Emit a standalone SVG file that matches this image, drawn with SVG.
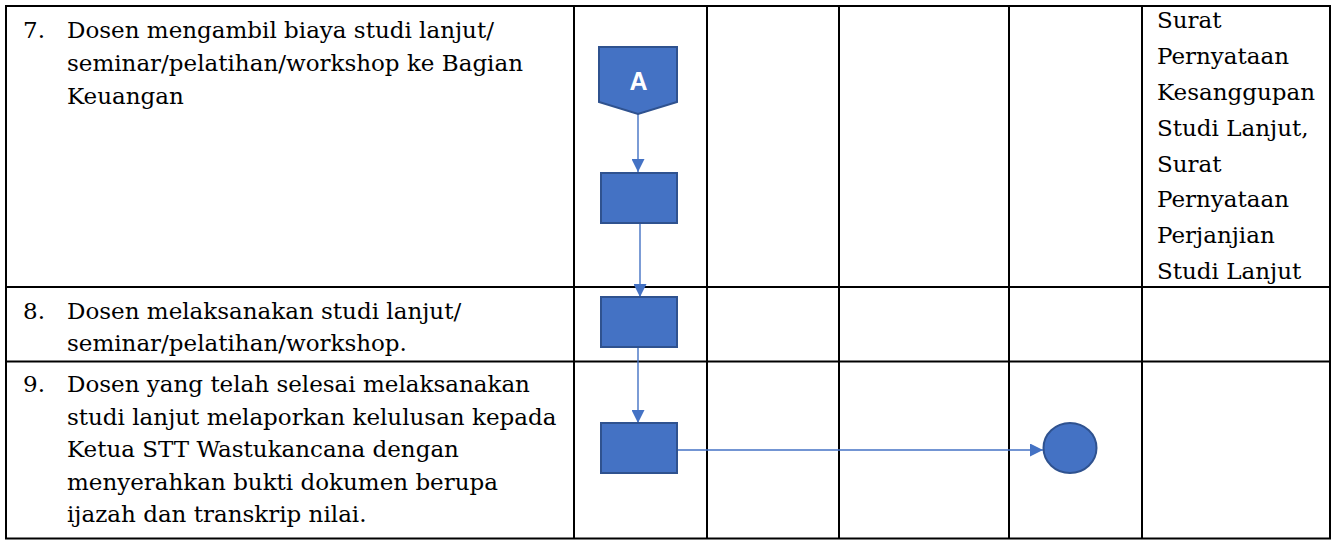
<svg xmlns="http://www.w3.org/2000/svg" width="1332" height="540" viewBox="0 0 1332 540">
<defs>
<style>
.t{font-family:"DejaVu Serif","Liberation Serif",serif;font-size:23px;fill:#000}
.grid{stroke:#000;stroke-width:2;fill:none}
.shape{fill:#4472C4;stroke:#2F528F;stroke-width:2}
.conn{stroke:#4472C4;stroke-width:1.4;fill:none}
.lbl{font-family:"Liberation Sans",Arial,sans-serif;font-size:25px;font-weight:bold;fill:#fff}
</style>
<marker id="arr" viewBox="0 0 10 10" refX="10" refY="5" markerWidth="10" markerHeight="10" markerUnits="userSpaceOnUse" orient="auto">
<path d="M0,0 L10,5 L0,10 z" fill="#4472C4"/>
</marker>
<marker id="arrL" viewBox="0 0 12 12" refX="12" refY="6" markerWidth="13" markerHeight="13" markerUnits="userSpaceOnUse" orient="auto">
<path d="M0,0 L12,6 L0,12 z" fill="#4472C4"/>
</marker>
</defs>
<rect width="1332" height="540" fill="#fff"/>
<g id="table">
<rect class="grid" x="6" y="6" width="1324" height="532.5"/>
<line class="grid" x1="6" y1="287" x2="1330" y2="287"/>
<line class="grid" x1="6" y1="361.5" x2="1330" y2="361.5"/>
<line class="grid" x1="574" y1="6" x2="574" y2="538.5"/>
<line class="grid" x1="707" y1="6" x2="707" y2="538.5"/>
<line class="grid" x1="839" y1="6" x2="839" y2="538.5"/>
<line class="grid" x1="1009" y1="6" x2="1009" y2="538.5"/>
<line class="grid" x1="1142" y1="6" x2="1142" y2="538.5"/>
</g>
<g id="row7-text">
<text class="t" x="23" y="38">7.</text>
<text class="t" x="67" y="38">Dosen mengambil biaya studi lanjut/</text>
<text class="t" x="67" y="71">seminar/pelatihan/workshop ke Bagian</text>
<text class="t" x="67" y="104">Keuangan</text>
</g>
<g id="row8-text">
<text class="t" x="23" y="319">8.</text>
<text class="t" x="67" y="319">Dosen melaksanakan studi lanjut/</text>
<text class="t" x="67" y="351">seminar/pelatihan/workshop.</text>
</g>
<g id="row9-text">
<text class="t" x="23" y="392">9.</text>
<text class="t" x="67" y="392">Dosen yang telah selesai melaksanakan</text>
<text class="t" x="67" y="425">studi lanjut melaporkan kelulusan kepada</text>
<text class="t" x="67" y="457">Ketua STT Wastukancana dengan</text>
<text class="t" x="67" y="490">menyerahkan bukti dokumen berupa</text>
<text class="t" x="67" y="522">ijazah dan transkrip nilai.</text>
</g>
<g id="row7-docs">
<text class="t" x="1157" y="28">Surat</text>
<text class="t" x="1157" y="64">Pernyataan</text>
<text class="t" x="1157" y="100">Kesanggupan</text>
<text class="t" x="1157" y="136">Studi Lanjut,</text>
<text class="t" x="1157" y="172">Surat</text>
<text class="t" x="1157" y="207">Pernyataan</text>
<text class="t" x="1157" y="243">Perjanjian</text>
<text class="t" x="1157" y="279">Studi Lanjut</text>
</g>
<g id="connectors">
<line class="conn" x1="638" y1="114" x2="638" y2="172" marker-end="url(#arrL)"/>
<line class="conn" x1="640" y1="223" x2="640" y2="297" marker-end="url(#arrL)"/>
<line class="conn" x1="638" y1="347" x2="638" y2="423" marker-end="url(#arrL)"/>
<line class="conn" x1="677" y1="450" x2="1043" y2="450" marker-end="url(#arrL)"/>
</g>
<g id="nodeA">
<path class="shape" d="M599,47 L677,47 L677,102 L638,114 L599,102 Z"/>
<text class="lbl" x="638.5" y="90" text-anchor="middle">A</text>
</g>
<g id="node7">
<rect class="shape" x="601" y="173" width="76" height="50"/>
</g>
<g id="node8">
<rect class="shape" x="601" y="297" width="76" height="50"/>
</g>
<g id="node9">
<rect class="shape" x="601" y="423" width="76" height="50"/>
</g>
<g id="end">
<ellipse class="shape" cx="1070" cy="448" rx="26.5" ry="25"/>
</g>
</svg>
